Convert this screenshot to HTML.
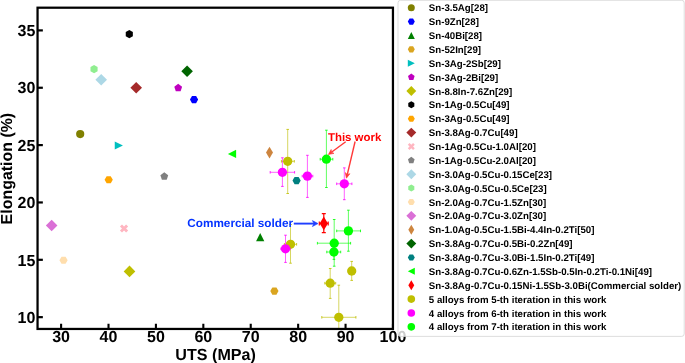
<!DOCTYPE html><html><head><meta charset="utf-8"><style>html,body{margin:0;padding:0;background:#fff}body{width:685px;height:363px;overflow:hidden;position:relative}</style></head><body><svg width="685" height="363" viewBox="0 0 685 363" style="position:absolute;left:0;top:0;will-change:transform;text-rendering:geometricPrecision;font-family:'Liberation Sans',sans-serif;font-weight:bold">
<rect width="685" height="363" fill="#fff"/>
<defs><clipPath id="ax"><rect x="37.55" y="7.70" width="355.40" height="321.25"/></clipPath></defs>
<g clip-path="url(#ax)">
<circle cx="80.20" cy="134.05" r="4.10" fill="#808000"/>
<polygon points="198.15,99.60 196.10,103.15 192.00,103.15 189.95,99.60 192.00,96.05 196.10,96.05" fill="#0000ff" />
<polygon points="260.20,233.10 256.10,241.30 264.30,241.30" fill="#008000" />
<polygon points="278.50,291.10 276.45,294.65 272.35,294.65 270.30,291.10 272.35,287.55 276.45,287.55" fill="#daa520" />
<polygon points="122.95,145.50 114.75,141.40 114.75,149.60" fill="#00bfbf" />
<polygon points="178.20,83.80 182.10,86.63 180.61,91.22 175.79,91.22 174.30,86.63" fill="#bf00bf" />
<polygon points="129.50,265.60 135.30,271.40 129.50,277.20 123.70,271.40" fill="#bfbf00" />
<polygon points="132.85,36.15 129.30,38.20 125.75,36.15 125.75,32.05 129.30,30.00 132.85,32.05" fill="#000000" />
<polygon points="112.80,179.70 110.75,183.25 106.65,183.25 104.60,179.70 106.65,176.15 110.75,176.15" fill="#ffa500" />
<polygon points="136.20,81.90 142.00,87.70 136.20,93.50 130.40,87.70" fill="#a52a2a" />
<polygon points="122.00,224.40 124.05,226.45 126.10,224.40 128.15,226.45 126.10,228.50 128.15,230.55 126.10,232.60 124.05,230.55 122.00,232.60 119.95,230.55 122.00,228.50 119.95,226.45" fill="#ffb6c1" />
<polygon points="164.30,172.30 168.20,175.13 166.71,179.72 161.89,179.72 160.40,175.13" fill="#808080" />
<polygon points="101.20,74.00 107.00,79.80 101.20,85.60 95.40,79.80" fill="#add8e6" />
<polygon points="97.60,71.15 94.05,73.20 90.50,71.15 90.50,67.05 94.05,65.00 97.60,67.05" fill="#90ee90" />
<polygon points="67.65,260.25 65.60,263.80 61.50,263.80 59.45,260.25 61.50,256.70 65.60,256.70" fill="#ffdead" />
<polygon points="51.65,219.70 57.45,225.50 51.65,231.30 45.85,225.50" fill="#da70d6" />
<polygon points="269.50,146.80 272.98,152.60 269.50,158.40 266.02,152.60" fill="#cd853f" />
<polygon points="187.10,65.50 192.90,71.30 187.10,77.10 181.30,71.30" fill="#006400" />
<polygon points="300.70,180.60 298.65,184.15 294.55,184.15 292.50,180.60 294.55,177.05 298.65,177.05" fill="#008080" />
<polygon points="227.90,153.90 236.10,149.80 236.10,158.00" fill="#00ff00" />
<g stroke="#ff0000" stroke-width="1.20" fill="none"><line x1="319.30" y1="223.40" x2="328.20" y2="223.40" stroke-opacity="1.00"/><line x1="323.80" y1="213.60" x2="323.80" y2="232.60" stroke-opacity="1.00"/><line x1="319.30" y1="221.40" x2="319.30" y2="225.40" stroke-opacity="1.00"/><line x1="328.20" y1="221.40" x2="328.20" y2="225.40" stroke-opacity="1.00"/><line x1="321.80" y1="213.60" x2="325.80" y2="213.60" stroke-opacity="1.00"/><line x1="321.80" y1="232.60" x2="325.80" y2="232.60" stroke-opacity="1.00"/></g><polygon points="323.80,216.47 327.96,223.40 323.80,230.33 319.64,223.40" fill="#ff0000" />
<g stroke="#bfbf00" stroke-width="1.00" fill="none"><line x1="281.40" y1="161.30" x2="294.30" y2="161.30" stroke-opacity="0.62"/><line x1="287.70" y1="129.40" x2="287.70" y2="193.50" stroke-opacity="0.62"/><line x1="281.40" y1="160.00" x2="281.40" y2="162.60" stroke-opacity="0.82"/><line x1="294.30" y1="160.00" x2="294.30" y2="162.60" stroke-opacity="0.82"/><line x1="286.40" y1="129.40" x2="289.00" y2="129.40" stroke-opacity="0.82"/><line x1="286.40" y1="193.50" x2="289.00" y2="193.50" stroke-opacity="0.82"/></g><circle cx="287.70" cy="161.30" r="4.65" fill="#bfbf00"/>
<g stroke="#bfbf00" stroke-width="1.00" fill="none"><line x1="284.40" y1="244.30" x2="296.60" y2="244.30" stroke-opacity="0.62"/><line x1="290.50" y1="224.50" x2="290.50" y2="263.20" stroke-opacity="0.62"/><line x1="284.40" y1="243.00" x2="284.40" y2="245.60" stroke-opacity="0.82"/><line x1="296.60" y1="243.00" x2="296.60" y2="245.60" stroke-opacity="0.82"/><line x1="289.20" y1="224.50" x2="291.80" y2="224.50" stroke-opacity="0.82"/><line x1="289.20" y1="263.20" x2="291.80" y2="263.20" stroke-opacity="0.82"/></g><circle cx="290.50" cy="244.30" r="4.65" fill="#bfbf00"/>
<g stroke="#bfbf00" stroke-width="1.00" fill="none"><line x1="349.70" y1="271.00" x2="353.70" y2="271.00" stroke-opacity="0.62"/><line x1="351.70" y1="261.40" x2="351.70" y2="280.40" stroke-opacity="0.62"/><line x1="349.70" y1="269.70" x2="349.70" y2="272.30" stroke-opacity="0.82"/><line x1="353.70" y1="269.70" x2="353.70" y2="272.30" stroke-opacity="0.82"/><line x1="350.40" y1="261.40" x2="353.00" y2="261.40" stroke-opacity="0.82"/><line x1="350.40" y1="280.40" x2="353.00" y2="280.40" stroke-opacity="0.82"/></g><circle cx="351.70" cy="271.00" r="4.65" fill="#bfbf00"/>
<g stroke="#bfbf00" stroke-width="1.00" fill="none"><line x1="324.80" y1="283.20" x2="335.70" y2="283.20" stroke-opacity="0.62"/><line x1="330.20" y1="268.50" x2="330.20" y2="298.40" stroke-opacity="0.62"/><line x1="324.80" y1="281.90" x2="324.80" y2="284.50" stroke-opacity="0.82"/><line x1="335.70" y1="281.90" x2="335.70" y2="284.50" stroke-opacity="0.82"/><line x1="328.90" y1="268.50" x2="331.50" y2="268.50" stroke-opacity="0.82"/><line x1="328.90" y1="298.40" x2="331.50" y2="298.40" stroke-opacity="0.82"/></g><circle cx="330.20" cy="283.20" r="4.65" fill="#bfbf00"/>
<g stroke="#bfbf00" stroke-width="1.00" fill="none"><line x1="321.80" y1="317.30" x2="355.90" y2="317.30" stroke-opacity="0.62"/><line x1="338.80" y1="285.20" x2="338.80" y2="349.40" stroke-opacity="0.62"/><line x1="321.80" y1="316.00" x2="321.80" y2="318.60" stroke-opacity="0.82"/><line x1="355.90" y1="316.00" x2="355.90" y2="318.60" stroke-opacity="0.82"/><line x1="337.50" y1="285.20" x2="340.10" y2="285.20" stroke-opacity="0.82"/><line x1="337.50" y1="349.40" x2="340.10" y2="349.40" stroke-opacity="0.82"/></g><circle cx="338.80" cy="317.30" r="4.65" fill="#bfbf00"/>
<g stroke="#ff00ff" stroke-width="1.00" fill="none"><line x1="270.20" y1="172.30" x2="294.60" y2="172.30" stroke-opacity="0.62"/><line x1="282.40" y1="157.80" x2="282.40" y2="186.40" stroke-opacity="0.62"/><line x1="270.20" y1="171.00" x2="270.20" y2="173.60" stroke-opacity="0.82"/><line x1="294.60" y1="171.00" x2="294.60" y2="173.60" stroke-opacity="0.82"/><line x1="281.10" y1="157.80" x2="283.70" y2="157.80" stroke-opacity="0.82"/><line x1="281.10" y1="186.40" x2="283.70" y2="186.40" stroke-opacity="0.82"/></g><circle cx="282.40" cy="172.30" r="4.65" fill="#ff00ff"/>
<g stroke="#ff00ff" stroke-width="1.00" fill="none"><line x1="302.20" y1="176.10" x2="312.80" y2="176.10" stroke-opacity="0.62"/><line x1="307.40" y1="155.30" x2="307.40" y2="197.40" stroke-opacity="0.62"/><line x1="302.20" y1="174.80" x2="302.20" y2="177.40" stroke-opacity="0.82"/><line x1="312.80" y1="174.80" x2="312.80" y2="177.40" stroke-opacity="0.82"/><line x1="306.10" y1="155.30" x2="308.70" y2="155.30" stroke-opacity="0.82"/><line x1="306.10" y1="197.40" x2="308.70" y2="197.40" stroke-opacity="0.82"/></g><circle cx="307.40" cy="176.10" r="4.65" fill="#ff00ff"/>
<g stroke="#ff00ff" stroke-width="1.00" fill="none"><line x1="336.70" y1="183.80" x2="351.90" y2="183.80" stroke-opacity="0.62"/><line x1="344.30" y1="167.90" x2="344.30" y2="199.70" stroke-opacity="0.62"/><line x1="336.70" y1="182.50" x2="336.70" y2="185.10" stroke-opacity="0.82"/><line x1="351.90" y1="182.50" x2="351.90" y2="185.10" stroke-opacity="0.82"/><line x1="343.00" y1="167.90" x2="345.60" y2="167.90" stroke-opacity="0.82"/><line x1="343.00" y1="199.70" x2="345.60" y2="199.70" stroke-opacity="0.82"/></g><circle cx="344.30" cy="183.80" r="4.65" fill="#ff00ff"/>
<g stroke="#ff00ff" stroke-width="1.00" fill="none"><line x1="280.90" y1="248.80" x2="290.10" y2="248.80" stroke-opacity="0.62"/><line x1="285.50" y1="235.20" x2="285.50" y2="262.40" stroke-opacity="0.62"/><line x1="280.90" y1="247.50" x2="280.90" y2="250.10" stroke-opacity="0.82"/><line x1="290.10" y1="247.50" x2="290.10" y2="250.10" stroke-opacity="0.82"/><line x1="284.20" y1="235.20" x2="286.80" y2="235.20" stroke-opacity="0.82"/><line x1="284.20" y1="262.40" x2="286.80" y2="262.40" stroke-opacity="0.82"/></g><circle cx="285.50" cy="248.80" r="4.65" fill="#ff00ff"/>
<g stroke="#00ff00" stroke-width="1.00" fill="none"><line x1="320.20" y1="159.20" x2="332.80" y2="159.20" stroke-opacity="0.62"/><line x1="326.40" y1="130.20" x2="326.40" y2="187.50" stroke-opacity="0.62"/><line x1="320.20" y1="157.90" x2="320.20" y2="160.50" stroke-opacity="0.82"/><line x1="332.80" y1="157.90" x2="332.80" y2="160.50" stroke-opacity="0.82"/><line x1="325.10" y1="130.20" x2="327.70" y2="130.20" stroke-opacity="0.82"/><line x1="325.10" y1="187.50" x2="327.70" y2="187.50" stroke-opacity="0.82"/></g><circle cx="326.40" cy="159.20" r="4.65" fill="#00ff00"/>
<g stroke="#00ff00" stroke-width="1.00" fill="none"><line x1="336.70" y1="230.90" x2="360.50" y2="230.90" stroke-opacity="0.62"/><line x1="348.40" y1="210.20" x2="348.40" y2="251.20" stroke-opacity="0.62"/><line x1="336.70" y1="229.60" x2="336.70" y2="232.20" stroke-opacity="0.82"/><line x1="360.50" y1="229.60" x2="360.50" y2="232.20" stroke-opacity="0.82"/><line x1="347.10" y1="210.20" x2="349.70" y2="210.20" stroke-opacity="0.82"/><line x1="347.10" y1="251.20" x2="349.70" y2="251.20" stroke-opacity="0.82"/></g><circle cx="348.40" cy="230.90" r="4.65" fill="#00ff00"/>
<g stroke="#00ff00" stroke-width="1.00" fill="none"><line x1="317.40" y1="243.20" x2="350.60" y2="243.20" stroke-opacity="0.62"/><line x1="334.20" y1="219.50" x2="334.20" y2="266.20" stroke-opacity="0.62"/><line x1="317.40" y1="241.90" x2="317.40" y2="244.50" stroke-opacity="0.82"/><line x1="350.60" y1="241.90" x2="350.60" y2="244.50" stroke-opacity="0.82"/><line x1="332.90" y1="219.50" x2="335.50" y2="219.50" stroke-opacity="0.82"/><line x1="332.90" y1="266.20" x2="335.50" y2="266.20" stroke-opacity="0.82"/></g><circle cx="334.20" cy="243.20" r="4.65" fill="#00ff00"/>
<g stroke="#00ff00" stroke-width="1.00" fill="none"><line x1="326.80" y1="252.00" x2="340.70" y2="252.00" stroke-opacity="0.62"/><line x1="333.90" y1="244.60" x2="333.90" y2="259.40" stroke-opacity="0.62"/><line x1="326.80" y1="250.70" x2="326.80" y2="253.30" stroke-opacity="0.82"/><line x1="340.70" y1="250.70" x2="340.70" y2="253.30" stroke-opacity="0.82"/><line x1="332.60" y1="244.60" x2="335.20" y2="244.60" stroke-opacity="0.82"/><line x1="332.60" y1="259.40" x2="335.20" y2="259.40" stroke-opacity="0.82"/></g><circle cx="333.90" cy="252.00" r="4.65" fill="#00ff00"/>
</g>
<rect x="37.55" y="7.70" width="355.40" height="321.25" fill="none" stroke="#000" stroke-width="2.25"/>
<line x1="61.10" y1="328.95" x2="61.10" y2="323.75" stroke="#000" stroke-width="2.1"/>
<text x="61.10" y="342" font-size="16" text-anchor="middle">30</text>
<line x1="108.51" y1="328.95" x2="108.51" y2="323.75" stroke="#000" stroke-width="2.1"/>
<text x="108.51" y="342" font-size="16" text-anchor="middle">40</text>
<line x1="155.92" y1="328.95" x2="155.92" y2="323.75" stroke="#000" stroke-width="2.1"/>
<text x="155.92" y="342" font-size="16" text-anchor="middle">50</text>
<line x1="203.33" y1="328.95" x2="203.33" y2="323.75" stroke="#000" stroke-width="2.1"/>
<text x="203.33" y="342" font-size="16" text-anchor="middle">60</text>
<line x1="250.74" y1="328.95" x2="250.74" y2="323.75" stroke="#000" stroke-width="2.1"/>
<text x="250.74" y="342" font-size="16" text-anchor="middle">70</text>
<line x1="298.15" y1="328.95" x2="298.15" y2="323.75" stroke="#000" stroke-width="2.1"/>
<text x="298.15" y="342" font-size="16" text-anchor="middle">80</text>
<line x1="345.56" y1="328.95" x2="345.56" y2="323.75" stroke="#000" stroke-width="2.1"/>
<text x="345.56" y="342" font-size="16" text-anchor="middle">90</text>
<line x1="392.97" y1="328.95" x2="392.97" y2="323.75" stroke="#000" stroke-width="2.1"/>
<text x="392.97" y="342" font-size="16" text-anchor="middle">100</text>
<line x1="37.55" y1="317.15" x2="42.85" y2="317.15" stroke="#000" stroke-width="2.2"/>
<text x="35.3" y="322.85" font-size="16" text-anchor="end">10</text>
<line x1="37.55" y1="259.80" x2="42.85" y2="259.80" stroke="#000" stroke-width="2.2"/>
<text x="35.3" y="265.50" font-size="16" text-anchor="end">15</text>
<line x1="37.55" y1="202.45" x2="42.85" y2="202.45" stroke="#000" stroke-width="2.2"/>
<text x="35.3" y="208.15" font-size="16" text-anchor="end">20</text>
<line x1="37.55" y1="145.10" x2="42.85" y2="145.10" stroke="#000" stroke-width="2.2"/>
<text x="35.3" y="150.80" font-size="16" text-anchor="end">25</text>
<line x1="37.55" y1="87.75" x2="42.85" y2="87.75" stroke="#000" stroke-width="2.2"/>
<text x="35.3" y="93.45" font-size="16" text-anchor="end">30</text>
<line x1="37.55" y1="30.40" x2="42.85" y2="30.40" stroke="#000" stroke-width="2.2"/>
<text x="35.3" y="36.10" font-size="16" text-anchor="end">35</text>
<text x="215.6" y="359.7" font-size="16.1" text-anchor="middle">UTS (MPa)</text>
<text transform="translate(12.0,168.6) rotate(-90)" font-size="15.95" text-anchor="middle">Elongation (%)</text>
<text x="327.9" y="141.3" font-size="11.46" fill="#ff0000">This work</text>
<text x="187.3" y="227.3" font-size="11.76" fill="#0433ff">Commercial solder</text>
<g stroke="#ff3838" fill="#ff3838" stroke-linejoin="round" opacity="1.00"><line x1="345.70" y1="141.80" x2="331.42" y2="152.28" stroke-width="1.40"/><polygon stroke-width="0.6" points="328.40,154.50 331.17,149.49 331.42,152.28 334.01,153.36"/></g>
<g stroke="#ff3838" fill="#ff3838" stroke-linejoin="round" opacity="1.00"><line x1="355.10" y1="141.50" x2="347.26" y2="174.56" stroke-width="1.40"/><polygon stroke-width="0.6" points="346.40,178.20 345.26,172.59 347.26,174.56 349.93,173.69"/></g>
<g stroke="#1f3fff" fill="#1f3fff" stroke-linejoin="round" opacity="1.00"><line x1="293.80" y1="223.60" x2="313.97" y2="223.60" stroke-width="1.90"/><polygon stroke-width="0.6" points="318.00,223.60 312.40,226.60 313.97,223.60 312.40,220.60"/></g>
<rect x="398.00" y="0.30" width="286.20" height="336.10" rx="2.5" ry="2.5" fill="#fff" fill-opacity="0.8" stroke="#d4d4d4" stroke-opacity="0.8" stroke-width="1"/>
<circle cx="411.30" cy="7.75" r="3.50" fill="#808000"/>
<text x="428.8" y="11.30" font-size="9.7" fill="#000">Sn-3.5Ag[28]</text>
<polygon points="414.80,21.62 413.05,24.66 409.55,24.66 407.80,21.62 409.55,18.59 413.05,18.59" fill="#0000ff" />
<text x="428.8" y="25.17" font-size="9.7" fill="#000">Sn-9Zn[28]</text>
<polygon points="411.30,32.00 407.80,39.00 414.80,39.00" fill="#008000" />
<text x="428.8" y="39.05" font-size="9.7" fill="#000">Sn-40Bi[28]</text>
<polygon points="414.80,49.37 413.05,52.40 409.55,52.40 407.80,49.37 409.55,46.34 413.05,46.34" fill="#daa520" />
<text x="428.8" y="52.92" font-size="9.7" fill="#000">Sn-52In[29]</text>
<polygon points="414.80,63.25 407.80,59.75 407.80,66.75" fill="#00bfbf" />
<text x="428.8" y="66.80" font-size="9.7" fill="#000">Sn-3Ag-2Sb[29]</text>
<polygon points="411.30,73.62 414.63,76.04 413.36,79.95 409.24,79.95 407.97,76.04" fill="#bf00bf" />
<text x="428.8" y="80.67" font-size="9.7" fill="#000">Sn-3Ag-2Bi[29]</text>
<polygon points="411.30,86.04 416.25,90.99 411.30,95.94 406.35,90.99" fill="#bfbf00" />
<text x="428.8" y="94.54" font-size="9.7" fill="#000">Sn-8.8In-7.6Zn[29]</text>
<polygon points="414.33,106.62 411.30,108.37 408.27,106.62 408.27,103.12 411.30,101.37 414.33,103.12" fill="#000000" />
<text x="428.8" y="108.42" font-size="9.7" fill="#000">Sn-1Ag-0.5Cu[49]</text>
<polygon points="414.80,118.74 413.05,121.77 409.55,121.77 407.80,118.74 409.55,115.71 413.05,115.71" fill="#ffa500" />
<text x="428.8" y="122.29" font-size="9.7" fill="#000">Sn-3Ag-0.5Cu[49]</text>
<polygon points="411.30,127.67 416.25,132.62 411.30,137.57 406.35,132.62" fill="#a52a2a" />
<text x="428.8" y="136.17" font-size="9.7" fill="#000">Sn-3.8Ag-0.7Cu[49]</text>
<polygon points="409.55,142.99 411.30,144.74 413.05,142.99 414.80,144.74 413.05,146.49 414.80,148.24 413.05,149.99 411.30,148.24 409.55,149.99 407.80,148.24 409.55,146.49 407.80,144.74" fill="#ffb6c1" />
<text x="428.8" y="150.04" font-size="9.7" fill="#000">Sn-1Ag-0.5Cu-1.0Al[20]</text>
<polygon points="411.30,156.86 414.63,159.28 413.36,163.20 409.24,163.20 407.97,159.28" fill="#808080" />
<text x="428.8" y="163.91" font-size="9.7" fill="#000">Sn-1Ag-0.5Cu-2.0Al[20]</text>
<polygon points="411.30,169.29 416.25,174.24 411.30,179.19 406.35,174.24" fill="#add8e6" />
<text x="428.8" y="177.79" font-size="9.7" fill="#000">Sn-3.0Ag-0.5Cu-0.15Ce[23]</text>
<polygon points="414.33,189.86 411.30,191.61 408.27,189.86 408.27,186.36 411.30,184.61 414.33,186.36" fill="#90ee90" />
<text x="428.8" y="191.66" font-size="9.7" fill="#000">Sn-3.0Ag-0.5Cu-0.5Ce[23]</text>
<polygon points="414.80,201.99 413.05,205.02 409.55,205.02 407.80,201.99 409.55,198.95 413.05,198.95" fill="#ffdead" />
<text x="428.8" y="205.54" font-size="9.7" fill="#000">Sn-2.0Ag-0.7Cu-1.5Zn[30]</text>
<polygon points="411.30,210.91 416.25,215.86 411.30,220.81 406.35,215.86" fill="#da70d6" />
<text x="428.8" y="219.41" font-size="9.7" fill="#000">Sn-2.0Ag-0.7Cu-3.0Zn[30]</text>
<polygon points="411.30,224.78 414.27,229.73 411.30,234.68 408.33,229.73" fill="#cd853f" />
<text x="428.8" y="233.28" font-size="9.7" fill="#000">Sn-1.0Ag-0.5Cu-1.5Bi-4.4In-0.2Ti[50]</text>
<polygon points="411.30,238.66 416.25,243.61 411.30,248.56 406.35,243.61" fill="#006400" />
<text x="428.8" y="247.16" font-size="9.7" fill="#000">Sn-3.8Ag-0.7Cu-0.5Bi-0.2Zn[49]</text>
<polygon points="414.80,257.48 413.05,260.51 409.55,260.51 407.80,257.48 409.55,254.45 413.05,254.45" fill="#008080" />
<text x="428.8" y="261.03" font-size="9.7" fill="#000">Sn-3.8Ag-0.7Cu-3.0Bi-1.5In-0.2Ti[49]</text>
<polygon points="407.80,271.36 414.80,267.86 414.80,274.86" fill="#00ff00" />
<text x="428.8" y="274.91" font-size="9.7" fill="#000">Sn-3.8Ag-0.7Cu-0.6Zn-1.5Sb-0.5In-0.2Ti-0.1Ni[49]</text>
<polygon points="411.30,280.28 414.27,285.23 411.30,290.18 408.33,285.23" fill="#ff0000" />
<text x="428.8" y="288.78" font-size="9.7" fill="#000">Sn-3.8Ag-0.7Cu-0.15Ni-1.5Sb-3.0Bi(Commercial solder)</text>
<circle cx="411.30" cy="299.10" r="3.80" fill="#bfbf00"/>
<text x="428.8" y="302.65" font-size="9.7" fill="#000">5 alloys from 5-th iteration in this work</text>
<circle cx="411.30" cy="312.98" r="3.80" fill="#ff00ff"/>
<text x="428.8" y="316.53" font-size="9.7" fill="#000">4 alloys from 6-th iteration in this work</text>
<circle cx="411.30" cy="326.85" r="3.80" fill="#00ff00"/>
<text x="428.8" y="330.40" font-size="9.7" fill="#000">4 alloys from 7-th iteration in this work</text>
</svg></body></html>
